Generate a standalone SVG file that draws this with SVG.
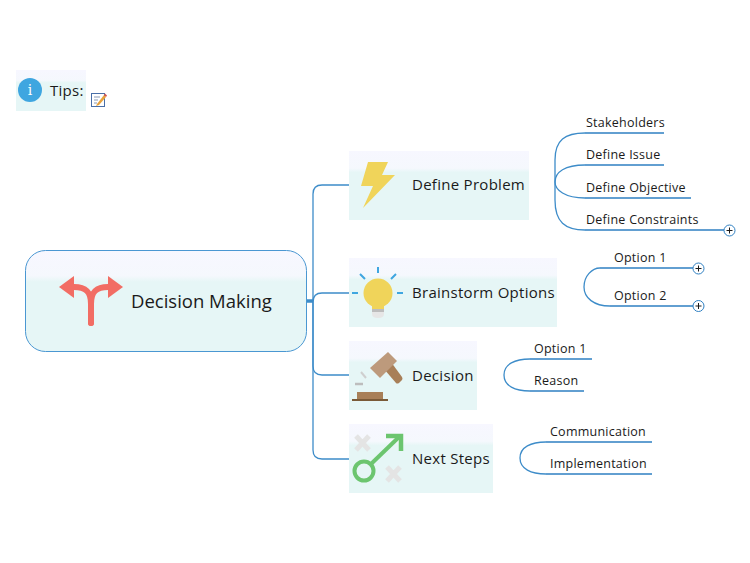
<svg xmlns="http://www.w3.org/2000/svg" width="750" height="563" viewBox="0 0 750 563">
<style>
text{font-family:"Open Sans","Noto Sans","Liberation Sans",sans-serif;fill:#1a1a1a}
.m{font-size:15px;letter-spacing:.28px}
.s{font-size:12.5px;letter-spacing:.25px}
.c{fill:none;stroke:#3d8cc9;stroke-width:1.3}
.u{fill:none;stroke:#2f80c2;stroke-width:1.3}
.p{fill:#fff;stroke:#2f80c2;stroke-width:1}
.pl{fill:none;stroke:#1a1a1a;stroke-width:1}
</style>
<defs>
<linearGradient id="g" x1="0" y1="0" x2="0" y2="1">
<stop offset="0" stop-color="#f7f7ff"/><stop offset=".25" stop-color="#f5f8fd"/><stop offset=".31" stop-color="#e6f6f6"/><stop offset="1" stop-color="#e6f6f6"/>
</linearGradient>
</defs>
<g id="connectors">
<path d="M306.500 301H313" stroke="#3d8cc9" stroke-width="3.500" fill="none"/>
<path class="c" d="M349 185H322Q313 185 313 194V450Q313 459 322 459H349"/>
<path class="c" d="M349 293H322Q313 293 313 302V366Q313 375 322 375H349"/>
<path class="u" d="M585 133H664M585 165H664M585 198H691M585 230H724"/>
<path class="c" d="M585 133C565 133 555 140 555 160V200C555 222 565 230 585 230"/>
<path class="c" d="M585 165C565 165 555 172 555 182C555 190 565 198 585 198"/>
<path class="u" d="M600 268H693M610 306H693"/>
<path class="c" d="M600 268C592 268 584 276 584 287C584 298 594 306 610 306"/>
<path class="u" d="M530 359H592M530 391H584"/>
<path class="c" d="M530 359C515 359 504 364 504 375C504 386 515 391 530 391"/>
<path class="u" d="M546 442H652M546 474H652"/>
<path class="c" d="M546 442C531 442 520 447 520 458C520 469 531 474 546 474"/>
</g>
<g id="tips">
<rect x="16" y="70" width="70" height="41" fill="url(#g)"/>
<circle cx="30" cy="90" r="12" fill="#3fa6e0"/>
<text x="30" y="95" text-anchor="middle" font-size="14" style="fill:#fff;font-family:'DejaVu Serif',serif">i</text>
<text x="50" y="96" class="m">Tips:</text>
<g id="note-icon">
<rect x="91.500" y="93.500" width="13" height="13" fill="#fff" stroke="#4a6fa8"/>
<path d="M94 97H100M94 100H98M94 103H97" stroke="#8a9ab5" fill="none"/>
<path d="M97 104L104 95L106 97L99 105L96 106Z" fill="#e8a23c"/>
<path d="M104 95L105 93.500L107 95.500L106 97Z" fill="#d9534f"/>
</g>
</g>
<g id="root">
<rect x="25.500" y="250.500" width="281" height="101" rx="20" fill="url(#g)" stroke="#4a97d2" stroke-width="1"/>
<g fill="#f26d64">
<path d="M91 323V304C91 292 86 287 74 287" fill="none" stroke="#f26d64" stroke-width="6" stroke-linecap="round"/>
<path d="M91 323V304C91 292 96 287 108 287" fill="none" stroke="#f26d64" stroke-width="6" stroke-linecap="round"/>
<path d="M74 276L59 287L74 298Z"/>
<path d="M108 276L123 287L108 298Z"/>
</g>
<text x="131" y="308" font-size="18.500">Decision Making</text>
</g>
<g id="define-problem">
<rect x="349" y="151" width="180" height="69" fill="url(#g)"/>
<path d="M368 162H388L382 175H395L363 208L373 186H361Z" fill="#f0d45a"/>
<text x="412" y="190" class="m">Define Problem</text>
</g>
<g id="brainstorm">
<rect x="349" y="258" width="208" height="69" fill="url(#g)"/>
<g stroke="#3fa6e0" stroke-width="2" fill="none">
<path d="M378 267V273M360 274L365 279M396 274L391 279M352 293H358M397 293H403"/>
</g>
<circle cx="378" cy="293" r="14.500" fill="#f0d45a"/>
<path d="M372 306H384V309H372Z" fill="#f0d45a"/>
<rect x="372" y="309" width="12" height="3" fill="#bdbdbd"/>
<path d="M372 312H384V314Q384 318 378 318Q372 318 372 314Z" fill="#e6e6e6"/>
<text x="412" y="298" class="m">Brainstorm Options</text>
</g>
<g id="decision">
<rect x="349" y="341" width="128" height="69" fill="url(#g)"/>
<path d="M384 369L391 362L402 377Q403 379 402 380L399 383Q397 384 396 383Z" fill="#a87f58"/>
<path d="M388 352L397 361L380 378L370 368Z" fill="#bd9a7c"/>
<path d="M361 372L366 378" stroke="#cfcfcf" stroke-width="2"/>
<path d="M355 384H363" stroke="#bdbdbd" stroke-width="2.500"/>
<rect x="357" y="392" width="26" height="7" fill="#a87f58"/>
<rect x="352" y="399" width="36" height="2" fill="#7a5a38"/>
<text x="412" y="381" class="m">Decision</text>
</g>
<g id="next-steps">
<rect x="349" y="424" width="144" height="69" fill="url(#g)"/>
<path d="M356 436L369 450M369 436L356 450M387 467L400 481M400 467L387 481" stroke="#e4e4e4" stroke-width="5" fill="none"/>
<circle cx="364" cy="471" r="9.500" fill="none" stroke="#6cc56f" stroke-width="4"/>
<path d="M371 464L399 437" stroke="#6cc56f" stroke-width="4" fill="none"/>
<path d="M386 436H401V451" stroke="#6cc56f" stroke-width="4.500" fill="none"/>
<text x="412" y="464" class="m">Next Steps</text>
</g>
<g id="stakeholders"><text x="586" y="127" class="s">Stakeholders</text></g>
<g id="define-issue"><text x="586" y="159" class="s">Define Issue</text></g>
<g id="define-objective"><text x="586" y="192" class="s">Define Objective</text></g>
<g id="define-constraints"><text x="586" y="224" class="s">Define Constraints</text>
<circle class="p" cx="729.500" cy="230.500" r="5.500"/><path class="pl" d="M726.500 230.500H732.500M729.500 227.500V233.500"/></g>
<g id="option-1a"><text x="614" y="262" class="s">Option 1</text>
<circle class="p" cx="698.500" cy="268.500" r="5.500"/><path class="pl" d="M695.500 268.500H701.500M698.500 265.500V271.500"/></g>
<g id="option-2"><text x="614" y="300" class="s">Option 2</text>
<circle class="p" cx="698.500" cy="306" r="5.500"/><path class="pl" d="M695.500 306H701.500M698.500 303V309"/></g>
<g id="option-1b"><text x="534" y="353" class="s">Option 1</text></g>
<g id="reason"><text x="534" y="385" class="s">Reason</text></g>
<g id="communication"><text x="550" y="435.500" class="s">Communication</text></g>
<g id="implementation"><text x="550" y="468" class="s">Implementation</text></g>
</svg>
